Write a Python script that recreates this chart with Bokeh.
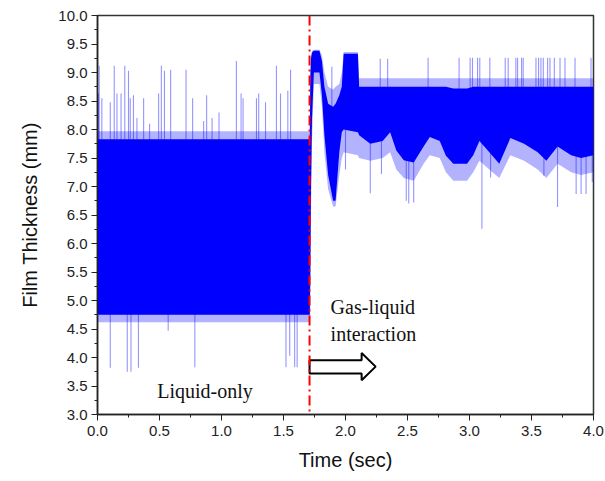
import numpy as np
from bokeh.plotting import figure
from bokeh.models import Range1d, Span, Label, FixedTicker
from bokeh.embed import file_html
from bokeh.resources import INLINE

# ---------------- data ----------------
# dense band of the film-thickness signal (time knots, lower / upper edge, mm)
band_t = [0.000, 1.712, 1.716, 1.722, 1.730, 1.745, 1.790, 1.810, 1.830, 1.860,
          1.900, 1.920, 1.950, 1.970, 1.985, 2.100, 2.110, 2.200, 2.300, 2.360,
          2.410, 2.470, 2.550, 2.630, 2.680, 2.760, 2.810, 2.870, 2.980, 3.030,
          3.080, 3.160, 3.240, 3.330, 3.440, 3.550, 3.620, 3.710, 3.820, 3.900, 4.000]
band_lo = [4.75, 4.75, 5.50, 7.00, 8.20, 9.00, 9.00, 8.60, 7.90, 7.20,
           6.75, 6.75, 7.60, 7.95, 8.00, 7.95, 7.90, 7.75, 7.80, 7.95,
           7.63, 7.46, 7.42, 7.70, 7.87, 7.80, 7.54, 7.40, 7.40, 7.55,
           7.80, 7.60, 7.40, 7.85, 7.75, 7.60, 7.45, 7.70, 7.55, 7.50, 7.55]
band_hi = [7.83, 7.83, 8.90, 9.25, 9.35, 9.38, 9.38, 9.20, 8.75, 8.45,
           8.40, 8.45, 8.60, 8.75, 9.33, 9.33, 8.75, 8.75, 8.75, 8.75,
           8.75, 8.75, 8.75, 8.75, 8.75, 8.75, 8.75, 8.72, 8.72, 8.75,
           8.75, 8.75, 8.75, 8.75, 8.75, 8.75, 8.75, 8.75, 8.75, 8.75, 8.75]
# lighter, ragged fringe around the dense band
fringe_lo = [4.62, 4.62, 4.70, 6.50, 7.80, 8.80, 8.80, 8.40, 7.60, 6.95,
             6.65, 6.65, 7.20, 7.50, 7.60, 7.55, 7.50, 7.45, 7.50, 7.60,
             7.30, 7.15, 7.10, 7.40, 7.55, 7.50, 7.25, 7.10, 7.10, 7.25,
             7.45, 7.30, 7.15, 7.55, 7.45, 7.30, 7.15, 7.40, 7.25, 7.20, 7.25]
fringe_hi = [7.97, 7.97, 9.00, 9.30, 9.38, 9.40, 9.40, 9.30, 9.00, 8.75,
             8.70, 8.75, 8.80, 9.00, 9.36, 9.36, 8.90, 8.90, 8.90, 8.90,
             8.90, 8.90, 8.90, 8.90, 8.90, 8.90, 8.90, 8.90, 8.90, 8.90,
             8.90, 8.90, 8.90, 8.90, 8.90, 8.90, 8.90, 8.90, 8.90, 8.90, 8.90]

# isolated spikes (time, peak value)
spike_t = [0.008, 0.014, 0.035, 0.103, 0.135, 0.157, 0.19, 0.22, 0.25, 0.264,
           0.29, 0.318, 0.372, 0.42, 0.493, 0.515, 0.54, 0.59, 0.714, 0.767,
           0.856, 0.88, 0.924, 0.98, 1.12, 1.158, 1.174, 1.282, 1.30, 1.355,
           1.443, 1.476, 1.535, 1.557,
           0.103, 0.24, 0.27, 0.33, 0.57, 0.785, 1.52, 1.55, 1.59, 1.61,
           1.89, 2.28, 2.34, 2.666, 2.916, 3.005, 3.024, 3.065, 3.083, 3.164,
           3.288, 3.312, 3.374, 3.388, 3.42, 3.433, 3.536, 3.557, 3.576, 3.595,
           3.63, 3.649, 3.684, 3.73, 3.77, 3.851, 3.98,
           2.00, 2.20, 2.29, 2.49, 2.51, 2.55, 3.10, 3.17, 3.60, 3.71, 3.86,
           3.90, 3.94, 3.99]
spike_v = [8.63, 9.12, 8.55, 8.48, 9.12, 8.63, 8.63, 9.12, 9.03, 8.55,
           8.60, 8.20, 8.55, 8.10, 8.63, 9.12, 9.03, 9.05, 9.05, 8.55,
           8.15, 8.60, 8.20, 8.30, 9.20, 8.63, 8.55, 8.55, 8.63, 8.48,
           9.12, 8.63, 8.68, 9.05,
           3.82, 3.75, 3.75, 3.82, 4.47, 3.83, 3.83, 4.03, 3.83, 3.83,
           9.10, 9.24, 9.24, 9.26, 9.26, 9.26, 9.26, 9.26, 9.26, 9.26,
           9.26, 9.26, 9.26, 9.26, 9.26, 9.26, 9.26, 9.26, 9.26, 9.26,
           9.26, 9.26, 9.26, 9.26, 9.26, 9.26, 9.26,
           7.30, 6.88, 7.22, 6.75, 6.70, 6.72, 6.26, 7.16, 7.19, 6.64, 6.87,
           6.87, 6.87, 7.08]

x_ticks = [0.0, 0.5, 1.0, 1.5, 2.0, 2.5, 3.0, 3.5, 4.0]
y_ticks = [3.0, 3.5, 4.0, 4.5, 5.0, 5.5, 6.0, 6.5, 7.0, 7.5, 8.0, 8.5, 9.0, 9.5, 10.0]
onset_time = 1.71

# annotation geometry (data units)
arrow_x_start, arrow_x_head, arrow_x_tip = 1.71, 2.13, 2.243
arrow_shaft_lo, arrow_shaft_hi = 3.72, 3.95
arrow_head_lo, arrow_head_hi = 3.60, 4.08

# ---------------- figure ----------------
p = figure(width=605, height=481, x_range=Range1d(0, 4), y_range=Range1d(3, 10),
           output_backend="svg", toolbar_location=None,
           min_border_left=97, min_border_right=12, min_border_top=15,
           min_border_bottom=67)
p.background_fill_color = "white"
p.border_fill_color = "white"
p.grid.visible = False
p.outline_line_color = "#333333"
p.outline_line_width = 1.5

BLUE = "#0000ff"
p.varea(x=band_t, y1=fringe_lo, y2=fringe_hi, fill_color=BLUE, fill_alpha=0.3)
mid = np.interp(spike_t, band_t, (np.array(band_lo) + np.array(band_hi)) / 2)
p.segment(x0=spike_t, y0=mid, x1=spike_t, y1=spike_v, line_color=BLUE,
          line_alpha=0.42, line_width=1.1)
p.varea(x=band_t, y1=band_lo, y2=band_hi, fill_color=BLUE, fill_alpha=1.0)

# onset line
p.add_layout(Span(location=onset_time, dimension="height", line_color="red",
                  line_width=2, line_dash="10 4 2 4"))

# arrow
ax = [arrow_x_start, arrow_x_head, arrow_x_head, arrow_x_tip, arrow_x_head,
      arrow_x_head, arrow_x_start]
ay = [arrow_shaft_lo, arrow_shaft_lo, arrow_head_lo, (arrow_head_lo + arrow_head_hi) / 2,
      arrow_head_hi, arrow_shaft_hi, arrow_shaft_hi]
p.patch(ax, ay, fill_color="white", line_color="black", line_width=2)

serif = "Liberation Serif"
for (tx, ty, txt) in [(1.88, 4.88, "Gas-liquid"), (1.88, 4.42, "interaction"),
                      (0.482, 3.42, "Liquid-only")]:
    p.add_layout(Label(x=tx, y=ty, text=txt, text_font=serif, text_font_size="20px",
                       text_baseline="middle", text_align="left", text_color="#111111"))

for ax_, ticks in [(p.xaxis[0], x_ticks), (p.yaxis[0], y_ticks)]:
    ax_.ticker = FixedTicker(ticks=ticks,
                             minor_ticks=list(np.arange(ticks[0], ticks[-1] + 1e-9, 0.25)))
    ax_.axis_line_width = 1.5
    ax_.axis_line_color = "#222222"
    ax_.major_tick_line_color = "#222222"
    ax_.minor_tick_line_color = "#222222"
    ax_.major_tick_out = 6
    ax_.major_tick_in = 0
    ax_.minor_tick_out = 3
    ax_.minor_tick_in = 0
    ax_.major_label_text_font = "Liberation Sans"
    ax_.major_label_text_font_size = "15px"
    ax_.major_label_text_color = "#222222"
    ax_.axis_label_text_font = "Liberation Sans"
    ax_.axis_label_text_font_size = "20px"
    ax_.axis_label_text_font_style = "normal"
    ax_.axis_label_text_color = "#111111"

p.xaxis.axis_label = "Time (sec)"
p.yaxis.axis_label = "Film Thickness (mm)"
p.xaxis.major_label_overrides = {t: f"{t:.1f}" for t in x_ticks}
p.yaxis.major_label_overrides = {t: f"{t:.1f}" for t in y_ticks}
p.xaxis.major_label_standoff = 5
p.yaxis.major_label_standoff = 4
p.xaxis.axis_label_standoff = 10
p.yaxis.axis_label_standoff = 14

open("out.html", "w").write(file_html(p, INLINE))
